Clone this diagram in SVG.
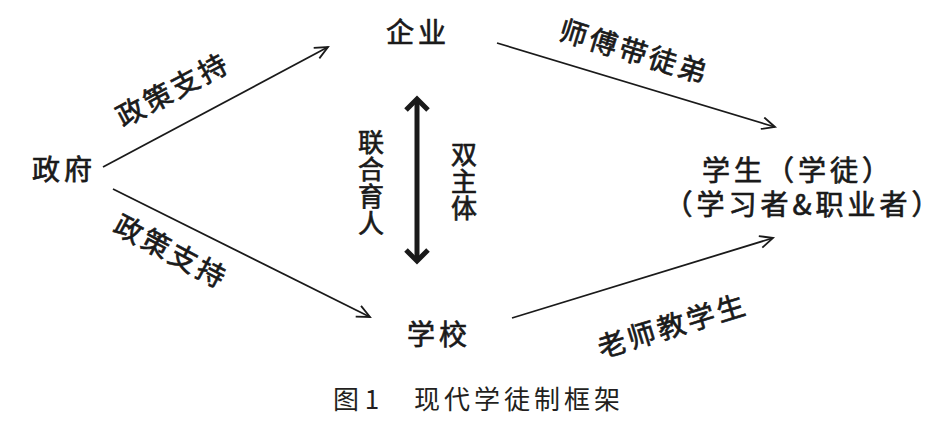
<svg xmlns="http://www.w3.org/2000/svg" width="948" height="433" viewBox="0 0 948 433">
<defs>
<style>
.t{font-family:"Noto Sans CJK SC","Noto Sans",sans-serif;font-size:28px;font-weight:normal;fill:#1a1a1a;stroke:#1a1a1a;stroke-width:0.7;}
.v{font-size:26px;letter-spacing:1px;}
.n{letter-spacing:4px;}
.l{letter-spacing:3px;}
.cap{font-family:"Noto Sans CJK SC","Noto Sans",sans-serif;font-size:26px;font-weight:normal;fill:#231f20;letter-spacing:4px;}
.ln{stroke:#1a1a1a;stroke-width:1.8;fill:none;}
.thick{stroke:#1a1a1a;stroke-width:5;fill:none;}
</style>
<marker id="ah" markerWidth="16" markerHeight="14" refX="14" refY="7" orient="auto" markerUnits="userSpaceOnUse">
<path d="M1,1 L14,7 L1,13" fill="none" stroke="#1a1a1a" stroke-width="1.8"/>
</marker>
</defs>
<rect width="948" height="433" fill="#ffffff"/>
<g id="connectors">
<line class="ln" x1="103" y1="167" x2="328" y2="47" marker-end="url(#ah)"/>
<line class="ln" x1="113" y1="189" x2="370" y2="317" marker-end="url(#ah)"/>
<line class="ln" x1="497" y1="43" x2="775" y2="127" marker-end="url(#ah)"/>
<line class="ln" x1="512" y1="318" x2="773" y2="238" marker-end="url(#ah)"/>
<g id="double-arrow">
<line class="thick" x1="417" y1="101" x2="417" y2="259"/>
<path class="thick" d="M406,110 L417,99 L428,110" stroke-linejoin="miter"/>
<path class="thick" d="M406,250 L417,261 L428,250" stroke-linejoin="miter"/>
</g>
<text class="t l" x="172" y="88" text-anchor="middle" dominant-baseline="central" transform="rotate(-28 172 88)">政策支持</text>
<text class="t l" x="172" y="250" text-anchor="middle" dominant-baseline="central" transform="rotate(28 172 250)">政策支持</text>
<text class="t l" x="635" y="50" text-anchor="middle" dominant-baseline="central" transform="rotate(17 635 50)">师傅带徒弟</text>
<text class="t l" x="672" y="324" text-anchor="middle" dominant-baseline="central" transform="rotate(-17 672 324)">老师教学生</text>
<text class="t v" x="371" y="183" writing-mode="vertical-rl" text-anchor="middle">联合育人</text>
<text class="t v" x="464" y="182" writing-mode="vertical-rl" text-anchor="middle">双主体</text>
</g>
<g id="node-enterprise"><text class="t n" x="418" y="43" text-anchor="middle">企业</text></g>
<g id="node-government"><text class="t n" x="64" y="180" text-anchor="middle">政府</text></g>
<g id="node-school"><text class="t n" x="439" y="345" text-anchor="middle">学校</text></g>
<g id="node-student">
<text class="t n" text-anchor="middle"><tspan x="798" y="181">学生（学徒）</tspan><tspan x="804" y="215">（学习者&amp;职业者）</tspan></text>
</g>
<g id="caption"><text class="cap" y="409"><tspan x="333" style="letter-spacing:0">图 1</tspan><tspan x="414">现代学徒制框架</tspan></text></g>
</svg>
